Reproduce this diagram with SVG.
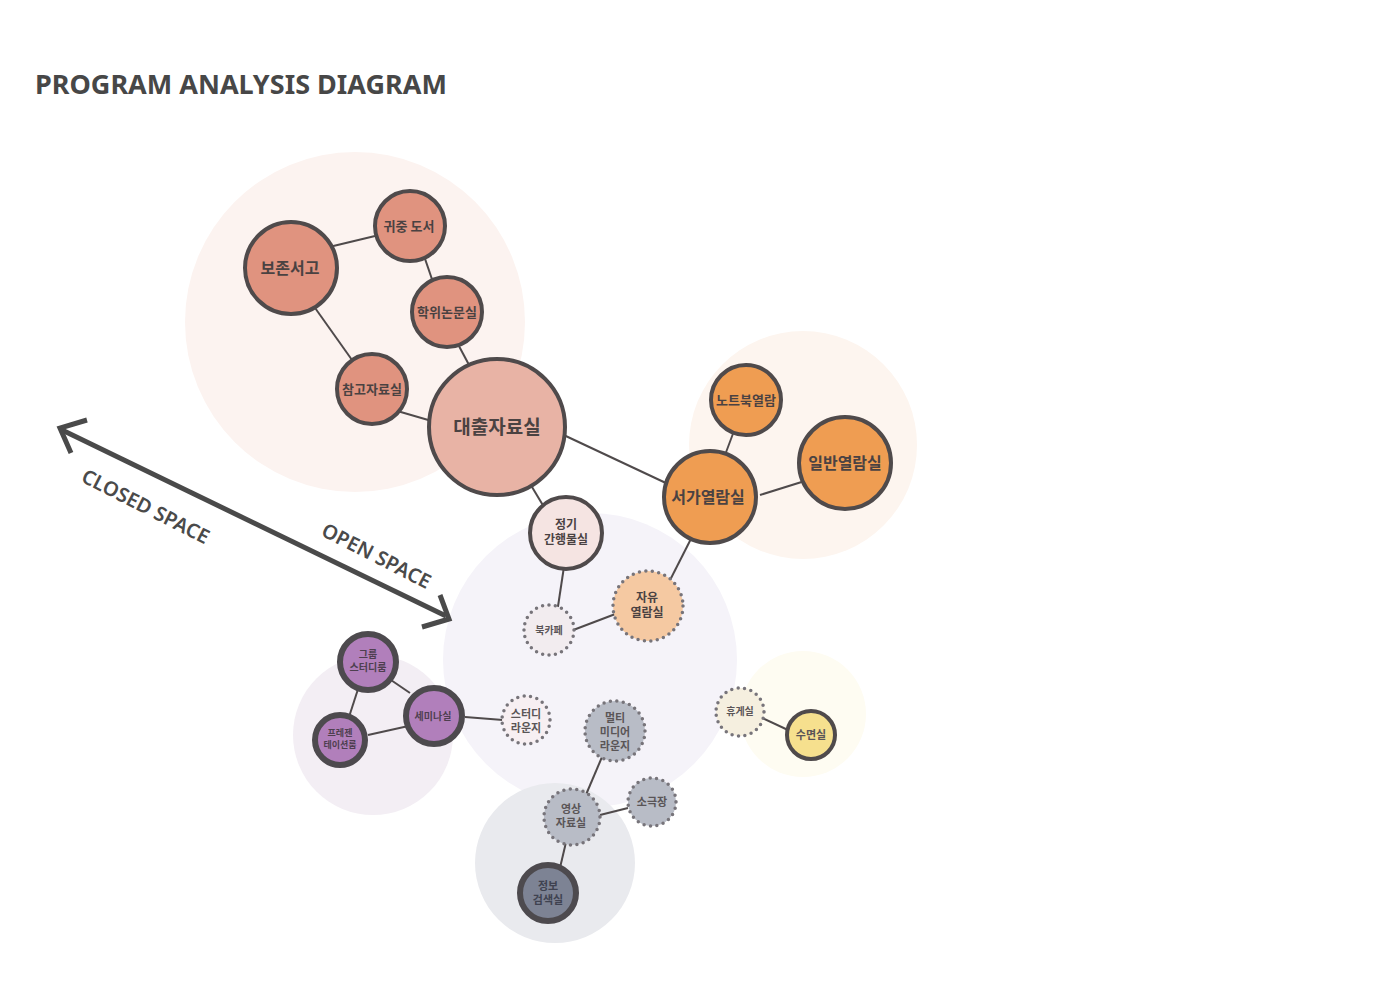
<svg xmlns="http://www.w3.org/2000/svg" width="1400" height="989" viewBox="0 0 1400 989">
<style>
.bg{stroke:none}
.n{stroke:#4f4a4b;stroke-width:4}
.nd{stroke:#77747a;stroke-width:3.5;stroke-dasharray:0 6.5;stroke-linecap:round}
.nt{stroke:#4d4a4e;stroke-width:6}
.c line{stroke:#4f4a4b;stroke-width:2}
text{font-family:"Noto Sans CJK KR","Noto Sans",sans-serif;font-weight:700;text-anchor:middle;fill:#4a4242}
.t{fill:#5a5557}
.p{fill:#4e3f50}
</style>
<rect width="1400" height="989" fill="#ffffff"/>
<text x="35" y="94" style="font-family:'Noto Sans',sans-serif;font-size:27px;text-anchor:start;fill:#474747">PROGRAM ANALYSIS DIAGRAM</text>
<g id="zones">
<circle class="bg" cx="355" cy="322" r="170" fill="#fcf3f0"/>
<circle class="bg" cx="803" cy="445" r="114" fill="#fdf5ef"/>
<circle class="bg" cx="590" cy="660" r="147" fill="#f5f3f9"/>
<circle class="bg" cx="373" cy="735" r="80" fill="#f3eef4"/>
<circle class="bg" cx="555" cy="863" r="80" fill="#e9eaee"/>
<circle class="bg" cx="803" cy="714" r="63" fill="#fefcf2"/>
</g>
<g id="axis" stroke="#4a4a4a" stroke-width="5" fill="none" stroke-linecap="butt">
<line x1="62" y1="430" x2="446" y2="616"/>
<polyline points="87,420 60,428 71,453"/>
<polyline points="440,595 449,619 422,627"/>
</g>
<text transform="translate(80,481) rotate(27)" style="font-family:'Noto Sans',sans-serif;font-size:20px;font-weight:600;text-anchor:start;fill:#4a4a4a">CLOSED SPACE</text>
<text transform="translate(320,535) rotate(27)" style="font-family:'Noto Sans',sans-serif;font-size:20px;font-weight:600;text-anchor:start;fill:#4a4a4a">OPEN SPACE</text>
<g id="connectors" class="c">
<line x1="325" y1="248" x2="375" y2="236"/>
<line x1="422" y1="250" x2="435" y2="288"/>
<line x1="452" y1="333" x2="476" y2="378"/>
<line x1="308" y1="298" x2="357" y2="367"/>
<line x1="387" y1="408" x2="442" y2="424"/>
<line x1="553" y1="430" x2="668" y2="484"/>
<line x1="523" y1="472" x2="547" y2="512"/>
<line x1="737" y1="423" x2="722" y2="463"/>
<line x1="760" y1="495" x2="808" y2="480"/>
<line x1="697" y1="527" x2="665" y2="590"/>
<line x1="565" y1="560" x2="557" y2="613"/>
<line x1="568" y1="632" x2="618" y2="613"/>
<line x1="388" y1="678" x2="410" y2="693"/>
<line x1="360" y1="683" x2="348" y2="720"/>
<line x1="368" y1="735" x2="413" y2="725"/>
<line x1="465" y1="717" x2="503" y2="720"/>
<line x1="602" y1="757" x2="585" y2="797"/>
<line x1="600" y1="815" x2="628" y2="808"/>
<line x1="567" y1="838" x2="559" y2="872"/>
<line x1="760" y1="717" x2="788" y2="730"/>
</g>
<g id="n-bojon"><circle class="n" cx="291" cy="268" r="46" fill="#e0937f"/><text x="290" y="274" font-size="16">보존서고</text></g>
<g id="n-gwijung"><circle class="n" cx="410" cy="226" r="35" fill="#e0937f"/><text x="409" y="231" font-size="13">귀중 도서</text></g>
<g id="n-hakwi"><circle class="n" cx="447" cy="312" r="35" fill="#e0937f"/><text x="447" y="317" font-size="13">학위논문실</text></g>
<g id="n-chamgo"><circle class="n" cx="372" cy="389" r="35" fill="#e0937f"/><text x="372" y="394" font-size="13">참고자료실</text></g>
<g id="n-daechul"><circle class="n" cx="497" cy="427" r="68" fill="#e8b3a5"/><text x="497" y="434" font-size="19">대출자료실</text></g>
<g id="n-notebook"><circle class="n" cx="746" cy="400" r="35" fill="#ef9d52"/><text x="746" y="405" font-size="13">노트북열람</text></g>
<g id="n-ilban"><circle class="n" cx="845" cy="463" r="46" fill="#ef9d52"/><text x="845" y="469" font-size="16">일반열람실</text></g>
<g id="n-seoga"><circle class="n" cx="710" cy="497" r="46" fill="#ef9d52"/><text x="708" y="503" font-size="16">서가열람실</text></g>
<g id="n-jeonggi"><circle class="n" cx="566" cy="533" r="36" fill="#f5e4e2"/><text font-size="12"><tspan x="566" y="529">정기</tspan><tspan x="566" y="544">간행물실</tspan></text></g>
<g id="n-jayu"><circle class="nd" cx="648" cy="606" r="35" fill="#f5c9a2"/><text font-size="12"><tspan x="647" y="602">자유</tspan><tspan x="647" y="617">열람실</tspan></text></g>
<g id="n-bookcafe"><circle class="nd" cx="549" cy="630" r="25" fill="#f2ecef"/><text class="t" x="549" y="634" font-size="10">북카페</text></g>
<g id="n-group"><circle class="nt" cx="368" cy="662" r="28" fill="#b17fbb"/><text class="p" font-size="10"><tspan x="368" y="658">그룹</tspan><tspan x="368" y="671">스터디룸</tspan></text></g>
<g id="n-seminar"><circle class="nt" cx="434" cy="716" r="28" fill="#b17fbb"/><text class="p" x="433" y="720" font-size="10">세미나실</text></g>
<g id="n-present"><circle class="nt" cx="340" cy="740" r="25" fill="#b17fbb"/><text class="p" font-size="9"><tspan x="340" y="736">프레젠</tspan><tspan x="340" y="748">테이션룸</tspan></text></g>
<g id="n-studylounge"><circle class="nd" cx="526" cy="720" r="24" fill="#f7eff2"/><text class="t" font-size="11"><tspan x="526" y="718">스터디</tspan><tspan x="526" y="732">라운지</tspan></text></g>
<g id="n-multi"><circle class="nd" cx="615" cy="731" r="30" fill="#b8bcc6"/><text class="t" font-size="11"><tspan x="615" y="722">멀티</tspan><tspan x="615" y="736">미디어</tspan><tspan x="615" y="750">라운지</tspan></text></g>
<g id="n-video"><circle class="nd" cx="572" cy="817" r="28" fill="#b8bcc6"/><text class="t" font-size="11"><tspan x="571" y="813">영상</tspan><tspan x="571" y="827">자료실</tspan></text></g>
<g id="n-theater"><circle class="nd" cx="652" cy="802" r="24" fill="#b8bcc6"/><text class="t" x="652" y="806" font-size="11">소극장</text></g>
<g id="n-info"><circle class="nt" cx="548" cy="893" r="28" fill="#7d8394"/><text class="t" font-size="11" style="fill:#3f4250"><tspan x="548" y="890">정보</tspan><tspan x="548" y="904">검색실</tspan></text></g>
<g id="n-rest"><circle class="nd" cx="740" cy="712" r="24" fill="#f5efdf"/><text class="t" x="740" y="715" font-size="10">휴게실</text></g>
<g id="n-sleep"><circle class="n" cx="811" cy="735" r="24" fill="#f6e08e"/><text class="t" x="811" y="739" font-size="11">수면실</text></g>
</svg>
